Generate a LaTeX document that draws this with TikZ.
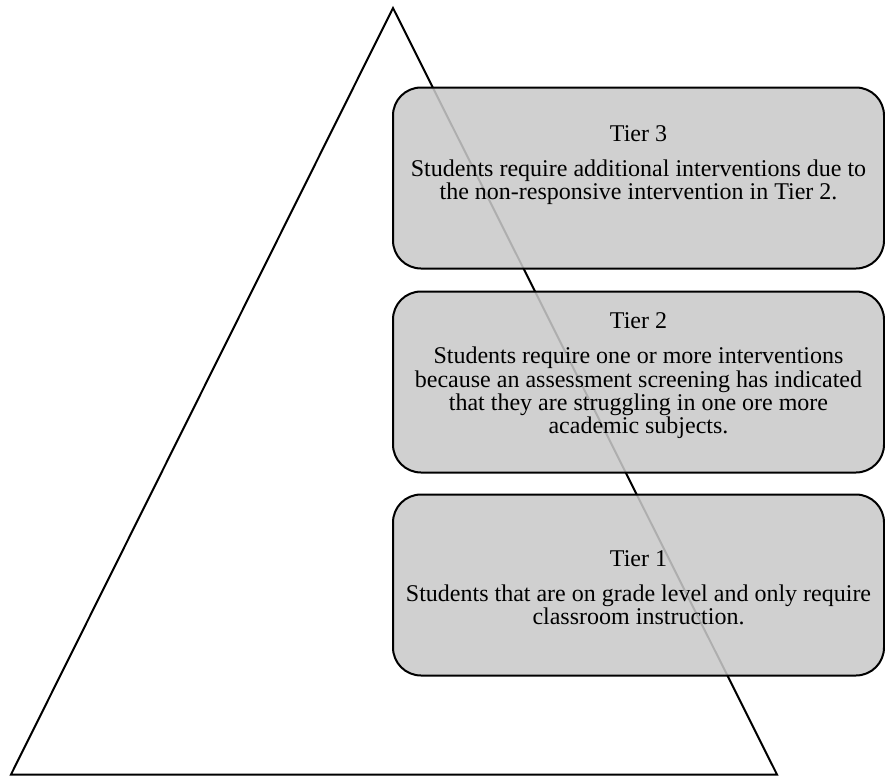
\documentclass[tikz,border=0pt]{standalone}
\usepackage{fontspec}
\setmainfont{Liberation Serif}
\usetikzlibrary{positioning}
\begin{document}
\begin{tikzpicture}[
    x = 0.5pt, y = -0.5pt,
    outer sep = 0mm,
    tierbox/.style = {
      rectangle, rounded corners = 14pt, draw = black, line width = 1pt,
      fill = black!21, fill opacity = .87,
      minimum width = 245.5pt, minimum height = 90.5pt,
    },
    tiertext/.style = {
      align = center, inner sep = 0mm,
      font = \fontsize{12}{11.7}\selectfont,
    }
  ]
  \useasboundingbox (0,0) rectangle (885,776);

  % pyramid behind the boxes
  \coordinate (apex) at (393,8);
  \coordinate (baseL) at (11,774.5);
  \coordinate (baseR) at (777,774.5);
  \draw[line width = 1pt] (apex) to (baseR) to (baseL) to cycle;

  \node[tierbox] (tier3) at (638.5,178) {};
  \node[tierbox, below = 11.5pt of tier3] (tier2) {};
  \node[tierbox, below = 11pt of tier2] (tier1) {};

  \node[tiertext] (txt3) at ([yshift=6.5pt]tier3.center)
    {Tier 3\\[5.8pt]Students require additional interventions due to\\the non-responsive intervention in Tier 2.};
  \node[tiertext] (txt2) at ([yshift=3pt]tier2.center)
    {Tier 2\\[5.8pt]Students require one or more interventions\\because an assessment screening has indicated\\that they are struggling in one ore more\\academic subjects.};
  \node[tiertext] (txt1) at ([yshift=-1.5pt]tier1.center)
    {Tier 1\\[5.8pt]Students that are on grade level and only require\\classroom instruction.};
\end{tikzpicture}
\end{document}
